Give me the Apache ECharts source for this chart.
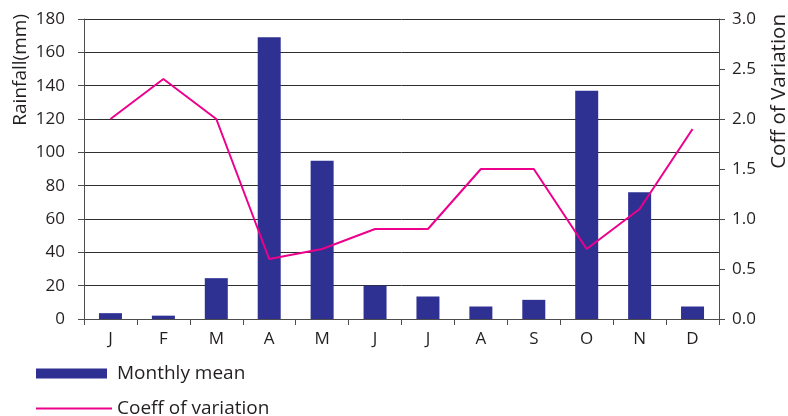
<!DOCTYPE html>
<html>
<head>
<meta charset="utf-8">
<script src="https://cdn.jsdelivr.net/npm/echarts@6/dist/echarts.min.js"></script>
<style>
  html, body { margin: 0; padding: 0; background: #fff; }
  #chart { width: 788px; height: 416px; }
</style>
</head>
<body>
<div id="chart"></div>
<script>
// Month initials along the category axis
const months = ['J', 'F', 'M', 'A', 'M', 'J', 'J', 'A', 'S', 'O', 'N', 'D'];
// Mean monthly rainfall (mm)
const monthlyMean = [3.5, 2, 24.5, 169, 95, 20, 13.5, 7.5, 11.5, 137, 76, 7.5];
// Coefficient of variation for each month
const coeffVariation = [2.0, 2.4, 2.0, 0.6, 0.7, 0.9, 0.9, 1.5, 1.5, 0.7, 1.1, 1.9];

const FONT = '"Open Sans", "Noto Sans", sans-serif';
const TEXT = '#231f20';
const AXIS = '#4d4d4d';
const BAR = '#2e3192';
const LINE = '#ec008c';

const chart = echarts.init(document.getElementById('chart'), null, { renderer: 'canvas' });

const legendText = { fontFamily: FONT, fontSize: 19, color: TEXT };

chart.setOption({
  animation: false,
  backgroundColor: '#ffffff',
  textStyle: { fontFamily: FONT },
  grid: { left: 84, right: 69, top: 19, bottom: 97, containLabel: false },
  // One legend block per row so the key stacks vertically under the plot
  legend: [
    {
      left: 36,
      top: 364,
      padding: 0,
      itemWidth: 71,
      itemHeight: 10,
      textStyle: Object.assign({ padding: [0, 0, 0, 5] }, legendText),
      data: [{ name: 'Monthly mean', icon: 'rect' }]
    },
    {
      left: 36,
      top: 399,
      padding: 0,
      itemWidth: 76,
      itemHeight: 2,
      textStyle: legendText,
      data: [{ name: 'Coeff of variation', icon: 'rect' }]
    }
  ],
  xAxis: {
    type: 'category',
    data: months,
    boundaryGap: true,
    axisLine: { lineStyle: { color: AXIS, width: 1 } },
    axisTick: { show: true, alignWithLabel: false, length: 6, lineStyle: { color: AXIS } },
    axisLabel: { color: TEXT, fontSize: 17, fontFamily: FONT, margin: 12 },
    splitLine: { show: false }
  },
  yAxis: [
    {
      type: 'value',
      min: 0,
      max: 180,
      interval: 20,
      axisLine: { show: true, lineStyle: { color: AXIS, width: 1 } },
      axisTick: { show: true, length: 6, lineStyle: { color: AXIS } },
      axisLabel: { color: TEXT, fontSize: 17, fontFamily: FONT, margin: 19 },
      splitLine: { show: true, lineStyle: { color: '#2f2f2f', width: 1 } }
    },
    {
      type: 'value',
      position: 'right',
      min: 0,
      max: 3,
      interval: 0.5,
      axisLine: { show: true, lineStyle: { color: AXIS, width: 1 } },
      axisTick: { show: true, length: 6, lineStyle: { color: AXIS } },
      axisLabel: {
        color: TEXT, fontSize: 17, fontFamily: FONT, margin: 13,
        formatter: v => v.toFixed(1)
      },
      splitLine: { show: false }
    }
  ],
  graphic: [
    {
      type: 'text',
      left: 11,
      top: 14,
      rotation: Math.PI / 2,
      originX: 0, originY: 0,
      style: {
        text: 'Rainfall(mm)',
        fontFamily: FONT, fontSize: 19, fill: TEXT
      }
    },
    {
      type: 'text',
      left: 769,
      top: 14,
      rotation: Math.PI / 2,
      originX: 0, originY: 0,
      style: {
        text: 'Coff of Variation',
        fontFamily: FONT, fontSize: 20.5, fill: TEXT
      }
    }
  ],
  series: [
    {
      name: 'Monthly mean',
      type: 'bar',
      yAxisIndex: 0,
      data: monthlyMean,
      barWidth: 23,
      itemStyle: { color: BAR }
    },
    {
      name: 'Coeff of variation',
      type: 'line',
      yAxisIndex: 1,
      data: coeffVariation,
      symbol: 'none',
      lineStyle: { color: LINE, width: 2 },
      itemStyle: { color: LINE }
    }
  ]
});
</script>
</body>
</html>
